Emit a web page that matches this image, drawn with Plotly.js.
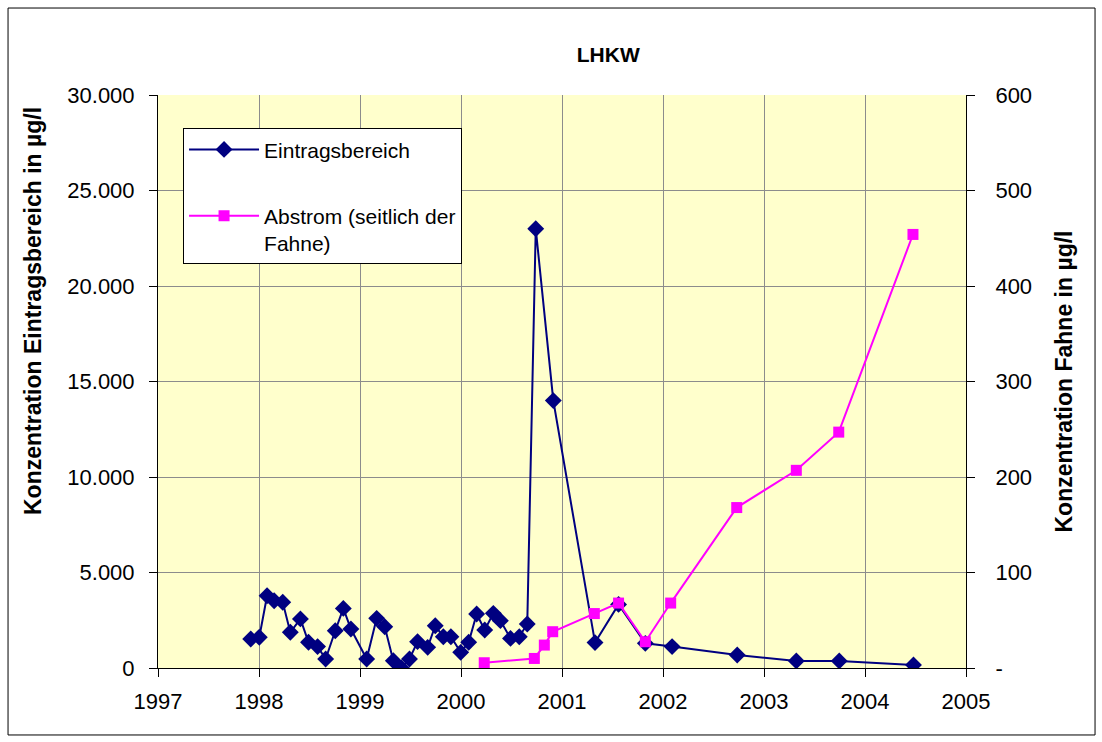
<!DOCTYPE html>
<html>
<head>
<meta charset="utf-8">
<script src="https://cdn.plot.ly/plotly-3.0.1.min.js"></script>
<style>
  html, body { margin: 0; padding: 0; background: #ffffff; }
  #chart { width: 1102px; height: 742px; }
</style>
</head>
<body>
<div id="chart"></div>
<script>
// Eintragsbereich (left axis, µg/l) - decimal year dates
const eintragDates = [
  1997.918, 1998.003, 1998.080, 1998.150, 1998.235, 1998.310, 1998.410, 1998.490,
  1998.580, 1998.660, 1998.755, 1998.835, 1998.910, 1999.066, 1999.165, 1999.245,
  1999.330, 1999.410, 1999.490, 1999.570, 1999.670, 1999.745, 1999.825, 1999.900,
  1999.997, 2000.076, 2000.155, 2000.235, 2000.320, 2000.390, 2000.490, 2000.577,
  2000.656, 2000.740, 2000.914, 2001.327, 2001.560, 2001.825, 2002.090, 2002.735,
  2003.320, 2003.745, 2004.480
];
const eintragValues = [
  1520, 1610, 3780, 3520, 3440, 1870, 2570, 1350,
  1120, 470, 1950, 3120, 2040, 470, 2600, 2160,
  380, 0, 470, 1380, 1080, 2210, 1640, 1640,
  820, 1350, 2830, 1990, 2860, 2480, 1550, 1640,
  2300, 23000, 14000, 1330, 3330, 1290, 1120, 680,
  370, 370, 160
];

// Abstrom (right axis, µg/l)
const abstromDates = [
  2000.230, 2000.726, 2000.825, 2000.908, 2001.320, 2001.560, 2001.825, 2002.076,
  2002.730, 2003.320, 2003.740, 2004.475
];
const abstromValues = [
  5.5, 10, 24, 38, 57, 68, 27.5, 68,
  168, 207, 247, 454
];

const xTicks = [1997, 1998, 1999, 2000, 2001, 2002, 2003, 2004, 2005];
const rightTickVals = [0, 100, 200, 300, 400, 500, 600];
const rightTickText = ['-', '100', '200', '300', '400', '500', '600'];

const FONT = 'Liberation Sans, Arial, sans-serif';

const traces = [
  {
    x: eintragDates, y: eintragValues, type: 'scatter', mode: 'lines+markers',
    name: 'Eintragsbereich', legendgroup: 'a',
    line: { color: '#000080', width: 2 },
    marker: { symbol: 'diamond', size: 13, color: '#000080' },
    yaxis: 'y'
  },
  {
    x: abstromDates, y: abstromValues, type: 'scatter', mode: 'lines+markers',
    name: 'Abstrom (seitlich der<br>Fahne)', legendgroup: 'b',
    line: { color: '#FF00FF', width: 2 },
    marker: { symbol: 'square', size: 11, color: '#FF00FF' },
    yaxis: 'y2'
  }
];

const layout = {
  width: 1102, height: 742,
  separators: ',.',
  paper_bgcolor: '#ffffff',
  plot_bgcolor: '#FFFFCC',
  font: { family: FONT, color: '#000000', size: 21 },
  margin: { l: 158, r: 136, t: 95, b: 74 },
  title: {
    text: '<b>LHKW</b>', font: { family: FONT, size: 21, color: '#000' },
    x: 0.552, xanchor: 'center', y: 0.926, yanchor: 'middle'
  },
  showlegend: true,
  legend: {
    x: 0.031, y: 0.942, xanchor: 'left', yanchor: 'top',
    bgcolor: '#ffffff', bordercolor: '#000000', borderwidth: 1,
    font: { family: FONT, size: 21, color: '#000' },
    tracegroupgap: 36, valign: 'top', itemwidth: 70
  },
  xaxis: {
    range: [1997, 2005], tickvals: xTicks, ticktext: xTicks.map(String),
    showgrid: true, gridcolor: '#8c8c8c', gridwidth: 1,
    showline: true, linecolor: '#000', linewidth: 1,
    ticks: 'outside', ticklen: 8, tickcolor: '#000',
    tickfont: { family: FONT, size: 22 }, zeroline: false,
    ticklabelstandoff: 6
  },
  yaxis: {
    range: [0, 30000], dtick: 5000, tickformat: ',.0f',
    showgrid: true, gridcolor: '#8c8c8c', gridwidth: 1,
    showline: true, linecolor: '#000', linewidth: 1,
    ticks: 'outside', ticklen: 8, tickcolor: '#000',
    tickfont: { family: FONT, size: 22 }, zeroline: false,
    ticklabelstandoff: 10
  },
  yaxis2: {
    range: [0, 600], overlaying: 'y', side: 'right',
    tickvals: rightTickVals, ticktext: rightTickText,
    showgrid: false, zeroline: false,
    showline: true, linecolor: '#000', linewidth: 1,
    ticks: 'outside', ticklen: 8, tickcolor: '#000',
    tickfont: { family: FONT, size: 22 },
    ticklabelstandoff: 16,
    title: { text: '<b>Konzentration Fahne in µg/l</b>', font: { family: FONT, size: 23 }, standoff: 24 }
  },
  annotations: [
    {
      text: '<b>Konzentration Eintragsbereich in µg/l</b>',
      xref: 'paper', yref: 'paper', x: -0.1547, y: 0.623,
      xanchor: 'center', yanchor: 'middle', textangle: -90,
      showarrow: false, font: { family: FONT, size: 23, color: '#000' }
    }
  ],
  shapes: [
    {
      type: 'rect', xref: 'paper', yref: 'paper',
      x0: -0.1856, x1: 1.1597, y0: -0.1169, y1: 1.1518,
      line: { color: '#000', width: 1 }, fillcolor: 'rgba(0,0,0,0)', layer: 'below'
    }
  ]
};

Plotly.newPlot('chart', traces, layout, { displayModeBar: false, staticPlot: true });
</script>
</body>
</html>
